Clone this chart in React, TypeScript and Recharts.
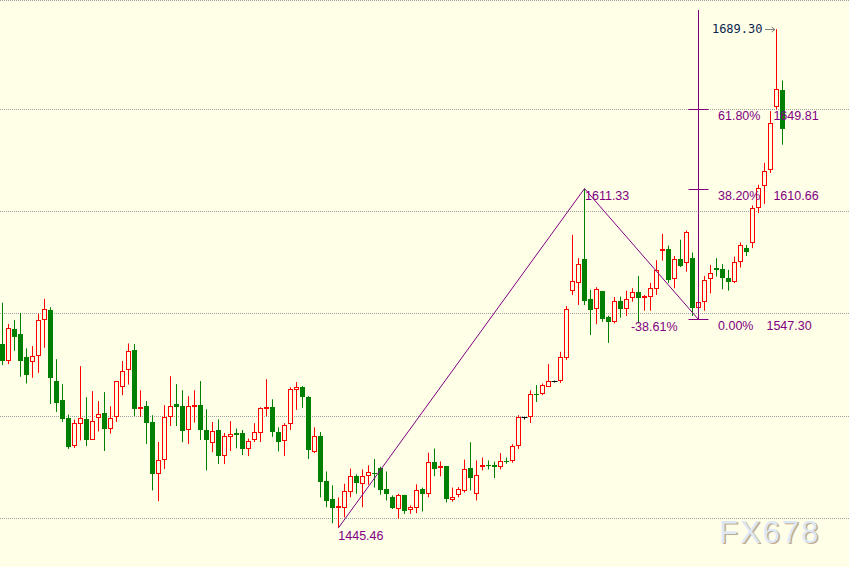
import React from "react";
import {
  ComposedChart,
  Bar,
  Line,
  Scatter,
  XAxis,
  YAxis,
  CartesianGrid,
  ReferenceLine,
} from "recharts";

// daily candles, left to right
const OPEN = [
  1535.3, 1527.1, 1542.6, 1540.2, 1528.9, 1526.3, 1529.3, 1546.9, 1552.0, 1517.2,
  1507.8, 1499.0, 1485.4, 1496.4, 1498.5, 1488.6, 1498.9, 1501.8, 1494.0, 1499.5,
  1514.1, 1522.4, 1532.4, 1503.6, 1504.9, 1497.1, 1471.7, 1478.8, 1499.4, 1505.9,
  1504.9, 1493.5, 1505.2, 1505.4, 1493.5, 1487.1, 1493.5, 1480.5, 1489.9, 1491.7,
  1491.7, 1484.0, 1488.6, 1491.8, 1503.3, 1504.4, 1492.2, 1488.1, 1496.4, 1512.6,
  1514.1, 1509.2, 1482.5, 1490.1, 1468.1, 1459.3, 1455.5, 1455.1, 1463.1, 1470.9,
  1467.0, 1470.9, 1472.2, 1474.5, 1464.2, 1460.6, 1454.6, 1461.3, 1454.3, 1455.2,
  1464.4, 1461.9, 1477.5, 1474.7, 1475.5, 1459.2, 1461.6, 1463.6, 1474.5, 1461.9,
  1475.1, 1476.0, 1476.0, 1475.3, 1478.3, 1478.3, 1485.4, 1499.4, 1499.4, 1511.1,
  1510.9, 1514.4, 1517.3, 1517.3, 1528.4, 1561.1, 1565.1, 1577.0, 1557.4, 1552.3,
  1561.3, 1548.5, 1546.2, 1556.2, 1552.3, 1557.7, 1560.6, 1558.7, 1558.5, 1562.4,
  1581.0, 1581.7, 1567.0, 1577.0, 1574.9, 1577.6, 1552.8, 1556.0, 1567.0, 1572.4,
  1571.9, 1567.6, 1565.8, 1575.6, 1582.4, 1584.7, 1601.8, 1612.4, 1620.2, 1651.1,
  1659.3,
];
const HIGH = [
  1555.5, 1545.1, 1547.1, 1550.5, 1533.2, 1534.3, 1550.1, 1557.4, 1553.3, 1527.9,
  1515.7, 1500.8, 1498.4, 1524.5, 1509.3, 1512.3, 1507.4, 1511.8, 1504.9, 1517.2,
  1527.0, 1535.6, 1535.3, 1512.7, 1507.4, 1500.5, 1487.4, 1505.4, 1519.6, 1515.7,
  1512.7, 1509.8, 1512.7, 1517.2, 1503.4, 1497.2, 1498.5, 1491.8, 1497.6, 1494.0,
  1493.3, 1489.1, 1496.6, 1504.4, 1518.1, 1508.3, 1494.6, 1496.6, 1514.1, 1516.7,
  1514.7, 1509.8, 1494.6, 1492.3, 1473.0, 1466.2, 1460.3, 1467.0, 1474.4, 1471.6,
  1474.0, 1476.0, 1479.1, 1475.3, 1473.0, 1461.3, 1462.1, 1461.6, 1456.4, 1466.7,
  1465.1, 1482.2, 1484.2, 1477.9, 1475.6, 1465.1, 1465.3, 1478.8, 1487.3, 1478.4,
  1479.8, 1478.4, 1477.8, 1482.0, 1479.8, 1486.3, 1500.5, 1499.5, 1512.7, 1515.2,
  1516.0, 1525.5, 1517.4, 1531.5, 1553.9, 1588.7, 1577.3, 1611.33, 1561.8, 1563.1,
  1561.3, 1549.2, 1558.3, 1558.5, 1561.4, 1562.6, 1568.6, 1559.3, 1565.2, 1576.3,
  1589.2, 1583.5, 1578.4, 1586.3, 1590.8, 1580.1, 1557.7, 1568.6, 1574.0, 1577.3,
  1574.4, 1571.6, 1578.1, 1585.0, 1583.8, 1603.1, 1613.2, 1623.9, 1649.2, 1689.3,
  1664.2,
];
const LOW = [
  1525.0, 1525.5, 1532.0, 1519.3, 1516.0, 1518.8, 1521.2, 1533.5, 1506.0, 1502.1,
  1497.2, 1484.0, 1484.5, 1488.2, 1485.4, 1488.6, 1492.6, 1483.0, 1491.5, 1497.2,
  1510.3, 1515.5, 1500.0, 1499.7, 1486.4, 1463.7, 1458.5, 1474.2, 1495.2, 1495.2,
  1487.3, 1486.4, 1496.9, 1488.4, 1473.5, 1482.4, 1476.6, 1476.6, 1483.0, 1484.3,
  1481.0, 1480.5, 1487.4, 1487.4, 1500.0, 1489.9, 1482.8, 1480.5, 1493.3, 1503.1,
  1504.1, 1479.1, 1482.0, 1460.3, 1455.5, 1447.7, 1445.46, 1450.6, 1460.4, 1462.1,
  1455.5, 1466.5, 1465.1, 1461.6, 1458.8, 1454.6, 1449.9, 1452.3, 1452.3, 1452.6,
  1453.4, 1460.4, 1470.7, 1470.6, 1457.8, 1458.2, 1460.4, 1462.7, 1463.7, 1458.8,
  1473.5, 1474.0, 1469.8, 1474.0, 1476.8, 1477.3, 1484.0, 1498.4, 1496.7, 1507.0,
  1510.3, 1514.4, 1517.2, 1516.3, 1527.5, 1559.3, 1554.4, 1554.4, 1539.7, 1545.0,
  1546.2, 1535.9, 1545.4, 1548.2, 1549.0, 1556.0, 1545.4, 1551.6, 1551.6, 1559.3,
  1576.1, 1565.1, 1562.6, 1572.9, 1570.7, 1549.0, 1547.3, 1551.6, 1560.1, 1568.3,
  1562.1, 1561.4, 1565.1, 1572.7, 1578.4, 1582.2, 1599.4, 1603.8, 1619.0, 1650.0,
  1632.8,
];
const CLOSE = [
  1527.1, 1543.0, 1538.9, 1527.1, 1520.2, 1529.3, 1546.9, 1552.3, 1518.8, 1506.5,
  1498.7, 1485.0, 1496.9, 1498.9, 1488.4, 1497.9, 1501.3, 1493.8, 1499.0, 1517.1,
  1522.1, 1531.9, 1503.6, 1504.4, 1496.7, 1471.7, 1478.8, 1499.4, 1505.2, 1504.6,
  1492.8, 1505.2, 1505.5, 1493.3, 1488.2, 1493.0, 1480.5, 1490.1, 1491.5, 1490.8,
  1484.0, 1487.7, 1492.2, 1503.8, 1504.3, 1492.2, 1487.4, 1495.6, 1513.1, 1514.1,
  1509.2, 1483.5, 1490.1, 1467.8, 1458.5, 1455.1, 1456.2, 1463.2, 1470.9, 1467.6,
  1470.9, 1472.6, 1471.6, 1463.7, 1461.8, 1454.9, 1461.3, 1453.9, 1455.7, 1463.7,
  1461.9, 1477.5, 1474.2, 1475.8, 1459.3, 1460.6, 1464.2, 1474.0, 1469.8, 1471.1,
  1476.0, 1475.5, 1475.3, 1478.3, 1477.6, 1485.6, 1499.7, 1499.4, 1511.1, 1510.4,
  1515.1, 1517.0, 1517.3, 1528.8, 1552.3, 1566.0, 1574.5, 1556.5, 1552.1, 1562.3,
  1547.7, 1546.2, 1556.2, 1552.6, 1557.4, 1560.6, 1558.0, 1559.0, 1562.6, 1571.6,
  1581.7, 1566.7, 1577.1, 1573.7, 1590.1, 1552.8, 1555.7, 1566.7, 1570.2, 1571.6,
  1567.8, 1565.8, 1575.6, 1583.5, 1580.5, 1601.8, 1611.6, 1619.8, 1643.5, 1659.8,
  1640.5,
];

const GRID_LEVELS = [1450, 1500, 1550, 1600, 1650];
const Y_DOMAIN = [1426.28, 1703.545];

// zigzag swing points (candle index, price, label)
const PIVOT_INDEX = [56, 97, 116];
const PIVOT_PRICE = [1445.46, 1611.33, 1547.3];
const PIVOT_LABEL = ["1445.46", "1611.33", "-38.61%"];

// fibonacci expansion drawn from the last low
const FIB_INDEX = 116;
const FIB_TOP = 1698.66;
const FIB_PRICE = [1547.3, 1610.66, 1649.81];
const FIB_PCT = ["0.00%", "38.20%", "61.80%"];
const FIB_VALUE = ["1547.30", "1610.66", "1649.81"];

const HIGH_INDEX = 129;
const HIGH_PRICE = 1689.3;
const HIGH_LABEL = "1689.30";

const candles = OPEN.map((o, i) => ({
  i,
  open: o,
  high: HIGH[i],
  low: LOW[i],
  close: CLOSE[i],
}));
const zigzag = PIVOT_INDEX.map((i, k) => ({ i, price: PIVOT_PRICE[k], label: PIVOT_LABEL[k], k }));
const fibs = FIB_PRICE.map((p, k) => ({ i: FIB_INDEX, price: p, pct: FIB_PCT[k], value: FIB_VALUE[k] }));
const topMark = [{ i: HIGH_INDEX, price: HIGH_PRICE, label: HIGH_LABEL }];

const W = 849;
const H = 567;
const BG = "#ffffe8";
const PURPLE = "#800080";
const UP = "#ff0000";
const DOWN = "#008000";
const FONT = "'Liberation Sans', Arial, sans-serif";

function Candle(props: any) {
  const { x, y, width, height, payload } = props;
  if (x == null || y == null || !payload) return null;
  const { open, close, high, low } = payload;
  const span = high - low;
  const py = (p: number) => (span > 0 ? y + ((high - p) / span) * height : y);
  const cx = Math.floor(x + width / 2) + 0.5;
  const yH = py(high);
  const yL = py(low);
  const yTop = py(Math.max(open, close));
  const yBot = py(Math.min(open, close));

  if (Math.abs(open - close) < 0.05) {
    const yy = Math.round(yTop) + 0.5;
    return (
      <g stroke="#000000" strokeWidth={1}>
        <line x1={cx} x2={cx} y1={yH} y2={Math.max(yL, yy + 1)} />
        <line x1={cx - 3} x2={cx + 3} y1={yy} y2={yy} />
      </g>
    );
  }

  if (close > open) {
    const t = Math.round(yTop) + 0.5;
    const b = Math.max(t + 1, Math.round(yBot) - 0.5);
    return (
      <g stroke={UP} strokeWidth={1}>
        <line x1={cx} x2={cx} y1={yH} y2={t} />
        <line x1={cx} x2={cx} y1={b} y2={yL} />
        <rect x={cx - 2} y={t} width={4} height={b - t} fill={BG} />
      </g>
    );
  }

  const t = Math.round(yTop);
  const h = Math.max(1, Math.round(yBot) - t);
  return (
    <g>
      <line x1={cx} x2={cx} y1={yH} y2={yL} stroke={DOWN} strokeWidth={1} />
      <rect x={cx - 2.5} y={t} width={5} height={h} fill={DOWN} />
    </g>
  );
}

function GridLine(props: any) {
  const y = Math.floor(props.y1) + 0.5;
  return (
    <line
      x1={props.x1}
      x2={props.x2}
      y1={y}
      y2={y}
      stroke="#a0a0a0"
      strokeWidth={1}
      strokeDasharray="1 1"
      fill="none"
    />
  );
}

function FibMark(props: any) {
  const { cx, cy, payload } = props;
  if (cx == null || cy == null) return null;
  const x = Math.floor(cx) + 0.5;
  const y = Math.floor(cy) + 0.5;
  return (
    <g>
      <line x1={x - 10} x2={x + 10} y1={y} y2={y} stroke={PURPLE} strokeWidth={1} />
      <text x={x + 19.5} y={cy + 10.5} fill={PURPLE} fontSize={12.5} fontFamily={FONT}>
        {payload.pct}
        <tspan dx={13}>{payload.value}</tspan>
      </text>
    </g>
  );
}

function PivotLabel(props: any) {
  const { cx, cy, payload } = props;
  if (cx == null || cy == null) return null;
  const k = payload.k;
  const dx = k === 2 ? -21 : k === 1 ? 0.5 : -0.2;
  const dy = k === 0 ? 12.2 : k === 1 ? 11.8 : 11.7;
  return (
    <text
      x={cx + dx}
      y={cy + dy}
      fill={PURPLE}
      fontSize={12.5}
      fontFamily={FONT}
      textAnchor={k === 2 ? "end" : "start"}
    >
      {payload.label}
    </text>
  );
}

function TopMark(props: any) {
  const { cx, cy, payload } = props;
  if (cx == null || cy == null) return null;
  const x = Math.floor(cx) + 0.5;
  const y = Math.floor(cy) + 0.5;
  return (
    <g>
      <line x1={x - 11.5} x2={x - 1.5} y1={y} y2={y} stroke="#808080" strokeWidth={1} />
      <path d={`M${x - 5},${y - 2.5} L${x - 1.5},${y} L${x - 5},${y + 2.5}`} stroke="#808080" fill="none" />
      <text
        x={x - 14}
        y={cy + 4.2}
        fill="#0c1f4f"
        fontSize={12}
        fontFamily="'DejaVu Sans Mono', 'Liberation Mono', monospace"
        textAnchor="end"
      >
        {payload.label}
      </text>
    </g>
  );
}

export default function App() {
  return (
    <div style={{ position: "absolute", left: 0, top: 0, width: W, height: H, background: BG, overflow: "hidden" }}>
      <ComposedChart width={W} height={H} data={candles} margin={{ top: 0, right: 0, bottom: 0, left: 0 }}>
        <XAxis
          type="number"
          dataKey="i"
          domain={[-2.5 / 6, -2.5 / 6 + W / 6]}
          allowDataOverflow
          hide
        />
        <YAxis type="number" domain={Y_DOMAIN} ticks={GRID_LEVELS} allowDataOverflow hide />
        <CartesianGrid vertical={false} horizontal={(p: any) => <GridLine {...p} />} />
        <Bar
          dataKey={(d: any) => [d.low, d.high]}
          barSize={5}
          shape={(p: any) => <Candle {...p} />}
          isAnimationActive={false}
        />
        <ReferenceLine
          segment={[
            { x: FIB_INDEX, y: FIB_PRICE[0] },
            { x: FIB_INDEX, y: FIB_TOP },
          ]}
          stroke={PURPLE}
          strokeWidth={1}
        />
        <Line
          data={zigzag}
          dataKey="price"
          type="linear"
          stroke={PURPLE}
          strokeWidth={1}
          dot={false}
          activeDot={false}
          isAnimationActive={false}
        />
        <Scatter data={fibs} dataKey="price" shape={(p: any) => <FibMark {...p} />} isAnimationActive={false} />
        <Scatter data={zigzag} dataKey="price" shape={(p: any) => <PivotLabel {...p} />} isAnimationActive={false} />
        <Scatter data={topMark} dataKey="price" shape={(p: any) => <TopMark {...p} />} isAnimationActive={false} />
      </ComposedChart>
      <svg width={W} height={H} style={{ position: "absolute", left: 0, top: 0, pointerEvents: "none" }}>
        <text x={720.5} y={544.2} fontSize={31} fontFamily={FONT} letterSpacing={2} fill="#c2ab8e">
          FX678
        </text>
        <text x={719} y={542.7} fontSize={31} fontFamily={FONT} letterSpacing={2} fill="#dde8f6">
          FX678
        </text>
      </svg>
    </div>
  );
}
